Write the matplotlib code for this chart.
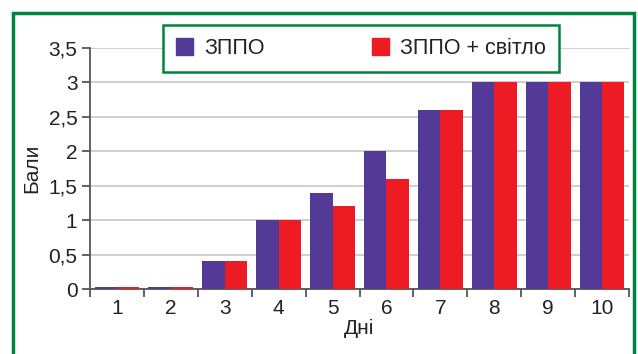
import matplotlib.pyplot as plt
import numpy as np
from matplotlib.patches import Rectangle, Patch

days = ['1', '2', '3', '4', '5', '6', '7', '8', '9', '10']
zppo = [0.03, 0.03, 0.4, 1.0, 1.4, 2.0, 2.6, 3.0, 3.0, 3.0]
zppo_light = [0.03, 0.03, 0.4, 1.0, 1.2, 1.6, 2.6, 3.0, 3.0, 3.0]
y_ticks = [0, 0.5, 1, 1.5, 2, 2.5, 3, 3.5]
y_labels = ['0', '0,5', '1', '1,5', '2', '2,5', '3', '3,5']

purple = '#523a96'
red = '#ed1c24'
green = '#00843d'
axis_grey = '#555555'

plt.rcParams['font.family'] = ['Liberation Sans', 'DejaVu Sans']

fig = plt.figure(figsize=(6.38, 3.54), dpi=100)
ax = fig.add_axes([0.141, 0.1836, 0.845, 0.6808])

x = np.arange(len(days))
w = 0.415
ax.bar(x - w / 2, zppo, width=w, color=purple, zorder=3)
ax.bar(x + w / 2, zppo_light, width=w, color=red, zorder=3)

ax.set_xlim(-0.5, len(days) - 0.5)
ax.set_ylim(0, 3.5)
ax.set_yticks(y_ticks)
ax.set_yticklabels(y_labels)
ax.set_xticks(x)
ax.set_xticklabels(days)
ax.set_xticks(np.arange(len(days) + 1) - 0.5, minor=True)
ax.tick_params(axis='x', which='major', length=0, labelsize=15, pad=7, colors='#222222')
ax.tick_params(axis='x', which='minor', length=6, width=1.3, color=axis_grey)
ax.tick_params(axis='y', length=6, width=1.3, color=axis_grey, labelsize=15, labelcolor='#222222', pad=3)

ax.grid(axis='y', color='#cfcfcf', linewidth=1.4, zorder=0)
for s in ['top', 'right']:
    ax.spines[s].set_visible(False)
for s in ['left', 'bottom']:
    ax.spines[s].set_color(axis_grey)
    ax.spines[s].set_linewidth(1.3)
    ax.spines[s].set_zorder(2.5)

ax.set_xlabel('Дні', fontsize=15, color='#222222', labelpad=1)
ax.set_ylabel('Бали', fontsize=15, color='#222222', labelpad=5)

handles = [Patch(color=purple), Patch(color=red)]
leg = fig.legend(handles, ['ЗППО', 'ЗППО + світло'], ncol=2, loc='upper left',
                 bbox_to_anchor=(163 / 638, 1 - 25 / 354), borderaxespad=0,
                 fontsize=15.5, handlelength=0.8, handleheight=0.8, handletextpad=0.5,
                 columnspacing=5.0, fancybox=False, framealpha=1, borderpad=0.6)
leg.get_frame().set_edgecolor(green)
leg.get_frame().set_linewidth(1.8)
for t in leg.get_texts():
    t.set_color('#222222')

fig.patches.append(Rectangle((13 / 638, -0.02), 621 / 638, 1 - 13 / 354 + 0.02,
                             transform=fig.transFigure, fill=False,
                             edgecolor=green, linewidth=2.5))

fig.savefig('out.png', dpi=100)
